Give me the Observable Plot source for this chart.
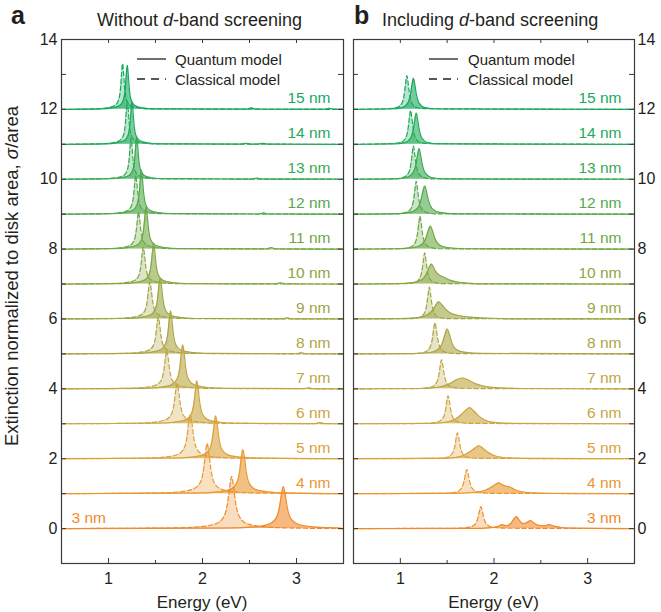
<!DOCTYPE html>
<html><head><meta charset="utf-8">
<script src="https://cdn.jsdelivr.net/npm/d3@7"></script>
<script src="https://cdn.jsdelivr.net/npm/@observablehq/plot@0.6"></script>
<style>
body{margin:0;background:#fff;font-family:"Liberation Sans",Arial,Helvetica,sans-serif;color:#231f20}
#wrap{position:relative;width:661px;height:612px;overflow:hidden;background:#fff}
#pa,#pb{position:absolute;top:0}
#pa{left:0}#pb{left:348px}
#ov{position:absolute;left:0;top:0;pointer-events:none}
</style></head><body>
<div id="wrap"><div id="pa"></div><div id="pb"></div>
<svg id="ov" width="661" height="612" font-family="Liberation Sans, Arial, Helvetica, sans-serif" fill="#231f20">
  <text x="11" y="24" font-size="25" font-weight="bold">a</text>
  <text x="97" y="26" font-size="18">Without <tspan font-style="italic">d</tspan>-band screening</text>
  <text x="354" y="24" font-size="25" font-weight="bold">b</text>
  <text x="382" y="26" font-size="18">Including <tspan font-style="italic">d</tspan>-band screening</text>
  <text transform="translate(18,276) rotate(-90)" text-anchor="middle" font-size="18.5">Extinction normalized to disk area, <tspan font-style="italic">σ</tspan>/area</text>
  <text x="202" y="608" text-anchor="middle" font-size="17">Energy (eV)</text>
  <text x="493.5" y="608" text-anchor="middle" font-size="17">Energy (eV)</text>
  <line x1="137" x2="166" y1="59" y2="59" stroke="#231f20" stroke-width="1.3"/>
  <line x1="137" x2="166" y1="79" y2="79" stroke="#231f20" stroke-width="1.3" stroke-dasharray="8,6"/>
  <text x="175" y="65" font-size="15">Quantum model</text>
  <text x="175" y="85" font-size="15">Classical model</text>
  <line x1="429" x2="458" y1="59" y2="59" stroke="#231f20" stroke-width="1.3"/>
  <line x1="429" x2="458" y1="79" y2="79" stroke="#231f20" stroke-width="1.3" stroke-dasharray="8,6"/>
  <text x="468" y="65" font-size="15">Quantum model</text>
  <text x="468" y="85" font-size="15">Classical model</text>
</svg>
</div>
<script>
const sizes = [3,4,5,6,7,8,9,10,11,12,13,14,15];
const sizeLabels = ["3 nm","4 nm","5 nm","6 nm","7 nm","8 nm","9 nm","10 nm","11 nm","12 nm","13 nm","14 nm","15 nm"];
const colors = ["#f08a2a","#ea972f","#dba23a","#cca540","#bda645","#ada544","#9ca742","#88a843","#6ea845","#52a94c","#37aa53","#22ab5a","#16a95e"];
const xDomain = [0.5, 3.5];
const yDomain = [-1, 14];
const xTickMajor = [1, 2, 3];
const xTickMinor = [1.5, 2.5];
const yTicks = [0,1,2,3,4,5,6,7,8,9,10,11,12,13];
const yTickLabels = [0,2,4,6,8,10,12,14];

// Panel a: without d-band screening  [energy (eV), extinction above baseline]
const aQuantum = [
 [[2.265,.014],[2.52,.042],[2.69,.108],[2.775,.26],[2.818,.6],[2.839,.96],[2.86,1.2],[2.881,.96],[2.902,.6],[2.945,.26],[3.03,.108],[3.2,.042],[3.455,.014]],
 [[1.94,.015],[2.15,.044],[2.29,.113],[2.36,.28],[2.395,.63],[2.412,1.01],[2.43,1.26],[2.448,1.01],[2.465,.63],[2.5,.28],[2.57,.113],[2.71,.044],[2.92,.015]],
 [[1.685,.015],[1.88,.043],[2.01,.11],[2.075,.27],[2.108,.62],[2.124,.98],[2.14,1.23],[2.156,.98],[2.173,.62],[2.205,.27],[2.27,.11],[2.4,.043],[2.595,.015]],
 [[1.52,.015],[1.7,.043],[1.82,.11],[1.88,.27],[1.91,.62],[1.925,.98],[1.94,1.23],[1.955,.98],[1.97,.62],[2.0,.27],[2.06,.11],[2.18,.043],[2.36,.015],[3.2,.005],[3.25,.03],[3.3,.005]],
 [[1.37,.015],[1.55,.044],[1.67,.113],[1.73,.28],[1.76,.63],[1.775,1.01],[1.79,1.26],[1.805,1.01],[1.82,.63],[1.85,.28],[1.91,.113],[2.03,.044],[2.21,.015],[3.08,.005],[3.13,.03],[3.18,.005]],
 [[1.275,.015],[1.44,.043],[1.55,.11],[1.605,.27],[1.633,.62],[1.646,.98],[1.66,1.23],[1.674,.98],[1.688,.62],[1.715,.27],[1.77,.11],[1.88,.043],[2.045,.015],[3.0,.005],[3.05,.03],[3.1,.005]],
 [[1.165,.014],[1.33,.041],[1.44,.105],[1.495,.26],[1.523,.59],[1.536,.94],[1.55,1.17],[1.564,.94],[1.578,.59],[1.605,.26],[1.66,.105],[1.77,.041],[1.935,.014],[2.85,.005],[2.9,.03],[2.95,.005]],
 [[1.13,.014],[1.28,.041],[1.38,.105],[1.43,.26],[1.455,.59],[1.468,.94],[1.48,1.17],[1.492,.94],[1.505,.59],[1.53,.26],[1.58,.105],[1.68,.041],[1.83,.014],[2.78,.005],[2.83,.035],[2.88,.005]],
 [[1.05,.014],[1.2,.042],[1.3,.108],[1.35,.26],[1.375,.6],[1.388,.96],[1.4,1.2],[1.412,.96],[1.425,.6],[1.45,.26],[1.5,.108],[1.6,.042],[1.75,.014],[2.68,.005],[2.73,.04],[2.78,.005]],
 [[1.035,.015],[1.17,.044],[1.26,.113],[1.305,.28],[1.328,.63],[1.339,1.01],[1.35,1.26],[1.361,1.01],[1.373,.63],[1.395,.28],[1.44,.113],[1.53,.044],[1.665,.015],[2.6,.005],[2.65,.035],[2.7,.005]],
 [[1.02,.015],[1.14,.043],[1.22,.11],[1.26,.27],[1.28,.62],[1.29,.98],[1.3,1.23],[1.31,.98],[1.32,.62],[1.34,.27],[1.38,.11],[1.46,.043],[1.58,.015],[2.53,.005],[2.58,.035],[2.63,.005]],
 [[0.97,.015],[1.09,.043],[1.17,.11],[1.21,.27],[1.23,.62],[1.24,.98],[1.25,1.23],[1.26,.98],[1.27,.62],[1.29,.27],[1.33,.11],[1.41,.043],[1.53,.015],[2.41,.005],[2.46,.03],[2.51,.005],[2.59,.005],[2.64,.03],[2.69,.005]],
 [[0.92,.015],[1.04,.044],[1.12,.113],[1.16,.28],[1.18,.63],[1.19,1.01],[1.2,1.26],[1.21,1.01],[1.22,.63],[1.24,.28],[1.28,.113],[1.36,.044],[1.48,.015],[2.47,.005],[2.52,.04],[2.57,.005],[3.3,.005],[3.35,.03],[3.4,.005]]
];
const aClassical = [
 [[1.715,.018],[1.97,.052],[2.14,.134],[2.225,.33],[2.268,.75],[2.289,1.19],[2.31,1.49],[2.331,1.19],[2.352,.75],[2.395,.33],[2.48,.134],[2.65,.052],[2.905,.018]],
 [[1.525,.017],[1.75,.05],[1.9,.129],[1.975,.31],[2.013,.72],[2.031,1.14],[2.05,1.43],[2.069,1.14],[2.088,.72],[2.125,.31],[2.2,.129],[2.35,.05],[2.575,.017]],
 [[1.38,.015],[1.59,.044],[1.73,.113],[1.8,.28],[1.835,.63],[1.852,1.01],[1.87,1.26],[1.888,1.01],[1.905,.63],[1.94,.28],[2.01,.113],[2.15,.044],[2.36,.015]],
 [[1.275,.014],[1.47,.04],[1.6,.104],[1.665,.25],[1.698,.58],[1.714,.92],[1.73,1.15],[1.746,.92],[1.763,.58],[1.795,.25],[1.86,.104],[1.99,.04],[2.185,.014]],
 [[1.2,.013],[1.38,.039],[1.5,.1],[1.56,.24],[1.59,.55],[1.605,.88],[1.62,1.1],[1.635,.88],[1.65,.55],[1.68,.24],[1.74,.1],[1.86,.039],[2.04,.013]],
 [[1.145,.013],[1.31,.037],[1.42,.095],[1.475,.23],[1.503,.53],[1.516,.84],[1.53,1.05],[1.544,.84],[1.558,.53],[1.585,.23],[1.64,.095],[1.75,.037],[1.915,.013]],
 [[1.055,.013],[1.22,.037],[1.33,.095],[1.385,.23],[1.413,.53],[1.426,.85],[1.44,1.06],[1.454,.85],[1.468,.53],[1.495,.23],[1.55,.095],[1.66,.037],[1.825,.013]],
 [[1.02,.013],[1.17,.037],[1.27,.095],[1.32,.23],[1.345,.53],[1.358,.85],[1.37,1.06],[1.382,.85],[1.395,.53],[1.42,.23],[1.47,.095],[1.57,.037],[1.72,.013]],
 [[0.97,.013],[1.12,.037],[1.22,.095],[1.27,.23],[1.295,.53],[1.308,.85],[1.32,1.06],[1.332,.85],[1.345,.53],[1.37,.23],[1.42,.095],[1.52,.037],[1.67,.013]],
 [[0.975,.013],[1.11,.039],[1.2,.1],[1.245,.24],[1.268,.56],[1.279,.89],[1.29,1.11],[1.301,.89],[1.313,.56],[1.335,.24],[1.38,.1],[1.47,.039],[1.605,.013]],
 [[0.96,.014],[1.08,.041],[1.16,.105],[1.2,.26],[1.22,.59],[1.23,.94],[1.24,1.17],[1.25,.94],[1.26,.59],[1.28,.26],[1.32,.105],[1.4,.041],[1.52,.014]],
 [[0.92,.015],[1.04,.043],[1.12,.11],[1.16,.27],[1.18,.61],[1.19,.98],[1.2,1.22],[1.21,.98],[1.22,.61],[1.24,.27],[1.28,.11],[1.36,.043],[1.48,.015]],
 [[0.87,.016],[0.99,.046],[1.07,.118],[1.11,.29],[1.13,.66],[1.14,1.05],[1.15,1.31],[1.16,1.05],[1.17,.66],[1.19,.29],[1.23,.118],[1.31,.046],[1.43,.016]]
];

// Panel b: including d-band screening
const bQuantum = [
 [[1.8,.005],[1.95,.02],[2.04,.06],[2.09,.11],[2.13,.08],[2.18,.15],[2.21,.26],[2.24,.34],[2.27,.24],[2.31,.14],[2.35,.17],[2.39,.23],[2.43,.15],[2.48,.09],[2.54,.08],[2.59,.11],[2.64,.07],[2.72,.03],[2.85,.01]],
 [[1.6,.01],[1.8,.04],[1.9,.09],[1.97,.18],[2.02,.27],[2.05,.31],[2.09,.25],[2.13,.21],[2.17,.19],[2.22,.12],[2.28,.06],[2.4,.02],[2.6,.005]],
 [[1.45,.01],[1.6,.04],[1.68,.1],[1.75,.21],[1.8,.31],[1.84,.37],[1.88,.3],[1.93,.19],[2.0,.09],[2.1,.035],[2.3,.01]],
 [[1.35,.01],[1.5,.05],[1.58,.12],[1.65,.26],[1.7,.39],[1.74,.46],[1.78,.38],[1.83,.24],[1.9,.11],[2.0,.04],[2.2,.01]],
 [[1.2,.01],[1.35,.03],[1.45,.07],[1.53,.15],[1.6,.26],[1.66,.31],[1.72,.26],[1.8,.15],[1.9,.07],[2.05,.03],[2.3,.01]],
 [[1.14,.01],[1.32,.04],[1.41,.14],[1.455,.36],[1.478,.57],[1.5,.71],[1.523,.57],[1.545,.36],[1.59,.14],[1.68,.05],[1.86,.015]],
 [[1.0,.01],[1.19,.04],[1.29,.12],[1.35,.27],[1.38,.4],[1.41,.49],[1.44,.42],[1.47,.32],[1.53,.18],[1.62,.1],[1.75,.05],[1.95,.02],[2.2,.005]],
 [[0.95,.01],[1.13,.04],[1.23,.12],[1.28,.3],[1.305,.46],[1.33,.57],[1.355,.48],[1.38,.35],[1.42,.25],[1.46,.2],[1.52,.12],[1.6,.06],[1.75,.02],[1.95,.005]],
 [[0.96,.01],[1.14,.04],[1.23,.13],[1.275,.33],[1.298,.53],[1.32,.66],[1.343,.53],[1.365,.33],[1.41,.13],[1.5,.04],[1.68,.01]],
 [[0.94,.01],[1.1,.05],[1.18,.16],[1.22,.4],[1.24,.64],[1.26,.8],[1.28,.64],[1.3,.4],[1.34,.16],[1.42,.05],[1.58,.01]],
 [[0.94,.01],[1.07,.05],[1.135,.18],[1.168,.44],[1.184,.7],[1.2,.88],[1.216,.7],[1.233,.44],[1.265,.18],[1.33,.05],[1.46,.01]],
 [[0.93,.01],[1.05,.05],[1.11,.18],[1.14,.45],[1.155,.71],[1.17,.89],[1.185,.71],[1.2,.45],[1.23,.18],[1.29,.05],[1.41,.01]],
 [[0.9,.01],[1.02,.05],[1.08,.18],[1.11,.45],[1.125,.71],[1.14,.89],[1.155,.71],[1.17,.45],[1.2,.18],[1.26,.05],[1.38,.01]]
];
const bClassical = [
 [[1.62,.01],[1.74,.04],[1.8,.13],[1.83,.32],[1.845,.5],[1.86,.63],[1.875,.5],[1.89,.32],[1.92,.13],[1.98,.04],[2.1,.01]],
 [[1.47,.01],[1.59,.04],[1.65,.14],[1.68,.35],[1.695,.55],[1.71,.69],[1.725,.55],[1.74,.35],[1.77,.14],[1.83,.04],[1.95,.01]],
 [[1.39,.01],[1.5,.04],[1.555,.15],[1.583,.37],[1.596,.59],[1.61,.74],[1.624,.59],[1.638,.37],[1.665,.15],[1.72,.04],[1.83,.01]],
 [[1.29,.01],[1.4,.05],[1.455,.16],[1.483,.4],[1.496,.64],[1.51,.8],[1.524,.64],[1.538,.4],[1.565,.16],[1.62,.05],[1.73,.01]],
 [[1.22,.01],[1.33,.05],[1.385,.17],[1.413,.42],[1.426,.66],[1.44,.83],[1.454,.66],[1.468,.42],[1.495,.17],[1.55,.05],[1.66,.01]],
 [[1.15,.01],[1.26,.05],[1.315,.18],[1.343,.45],[1.356,.71],[1.37,.89],[1.384,.71],[1.398,.45],[1.425,.18],[1.48,.05],[1.59,.01]],
 [[1.11,.01],[1.21,.05],[1.26,.18],[1.285,.46],[1.298,.73],[1.31,.91],[1.322,.73],[1.335,.46],[1.36,.18],[1.41,.05],[1.51,.01]],
 [[1.06,.01],[1.16,.05],[1.21,.18],[1.235,.45],[1.248,.71],[1.26,.89],[1.272,.71],[1.285,.45],[1.31,.18],[1.36,.05],[1.46,.01]],
 [[1.01,.01],[1.11,.06],[1.16,.19],[1.185,.47],[1.198,.75],[1.21,.94],[1.222,.75],[1.235,.47],[1.26,.19],[1.31,.06],[1.41,.01]],
 [[0.97,.01],[1.07,.06],[1.12,.19],[1.145,.47],[1.158,.75],[1.17,.94],[1.182,.75],[1.195,.47],[1.22,.19],[1.27,.06],[1.37,.01]],
 [[0.94,.01],[1.04,.06],[1.09,.19],[1.115,.48],[1.128,.76],[1.14,.95],[1.152,.76],[1.165,.48],[1.19,.19],[1.24,.06],[1.34,.01]],
 [[0.91,.02],[1.01,.06],[1.06,.19],[1.085,.49],[1.098,.78],[1.11,.97],[1.122,.78],[1.135,.49],[1.16,.19],[1.21,.06],[1.31,.02]],
 [[0.87,.02],[0.97,.06],[1.02,.19],[1.045,.49],[1.058,.78],[1.07,.97],[1.082,.78],[1.095,.49],[1.12,.19],[1.17,.06],[1.27,.02]]
];

const FRAME = "#3a3a3a";
const HEIGHT = 612, MT = 39, MB = 49;

function rowsFor(pts, i) {
  return [[xDomain[0], 0], ...pts, [xDomain[1], 0]].map(([E, v]) => ({E, base: i, top: i + v}));
}

function panel({q, c, width, ml, mr, labelsRight, leftLabelIdx}) {
  const innerW = width - ml - mr, innerH = HEIGHT - MT - MB;
  const marks = [];
  for (let i = sizes.length - 1; i >= 0; i--) {
    const cr = rowsFor(c[i], i), qr = rowsFor(q[i], i);
    marks.push(
      Plot.areaY(cr, {x: "E", y1: "base", y2: "top", fill: colors[i], fillOpacity: 0.3, curve: "monotone-x"}),
      Plot.areaY(qr, {x: "E", y1: "base", y2: "top", fill: colors[i], fillOpacity: 0.6, curve: "monotone-x"}),
      Plot.lineY(cr, {x: "E", y: "top", stroke: colors[i], strokeWidth: 1.2, strokeDasharray: "4.5,2.5", curve: "monotone-x"}),
      Plot.lineY(qr, {x: "E", y: "top", stroke: colors[i], strokeWidth: 1.2, curve: "monotone-x"})
    );
  }
  const lab = sizes.map((s, i) => ({i, label: sizeLabels[i], color: colors[i]}));
  marks.push(
    Plot.text(lab.filter(d => d.i !== leftLabelIdx), {y: "i", text: "label", fill: "color", frameAnchor: "right", textAnchor: "end", lineAnchor: "bottom", dx: -13, dy: -6, fontSize: 15.5}),
    Plot.text(lab.filter(d => d.i === leftLabelIdx), {y: "i", text: "label", fill: "color", frameAnchor: "left", textAnchor: "start", lineAnchor: "bottom", dx: 10, dy: -6, fontSize: 15.5}),
    Plot.frame({stroke: FRAME, strokeWidth: 1.2}),
    Plot.ruleX(xTickMajor, {x: d => d, insetTop: innerH - 5, stroke: FRAME}),
    Plot.ruleX(xTickMinor, {x: d => d, insetTop: innerH - 3, stroke: FRAME}),
    Plot.ruleX(xTickMajor.concat(xTickMinor), {x: d => d, insetBottom: innerH - 4, stroke: FRAME}),
    Plot.ruleY(yTicks, {y: d => d, insetRight: innerW - 5, stroke: FRAME}),
    Plot.ruleY(yTicks, {y: d => d, insetLeft: innerW - 5, stroke: FRAME}),
    Plot.text(xTickMajor, {x: d => d, text: d => String(d), frameAnchor: "bottom", lineAnchor: "top", dy: 9, fontSize: 16, fill: "#231f20"}),
    labelsRight
      ? Plot.text(yTickLabels, {y: d => d, text: d => String(d), frameAnchor: "right", textAnchor: "start", dx: 3, fontSize: 16, fill: "#231f20"})
      : Plot.text(yTickLabels, {y: d => d, text: d => String(d), frameAnchor: "left", textAnchor: "end", dx: -4, fontSize: 16, fill: "#231f20"})
  );
  return Plot.plot({
    width, height: HEIGHT, marginLeft: ml, marginRight: mr, marginTop: MT, marginBottom: MB,
    x: {domain: xDomain, axis: null}, y: {domain: yDomain, axis: null},
    style: {fontFamily: "Liberation Sans, Arial, Helvetica, sans-serif", background: "transparent", overflow: "visible"},
    marks
  });
}

document.getElementById("pa").append(panel({q: aQuantum, c: aClassical, width: 348, ml: 61, mr: 5, labelsRight: false, leftLabelIdx: 0}));
document.getElementById("pb").append(panel({q: bQuantum, c: bClassical, width: 313, ml: 5, mr: 27, labelsRight: true, leftLabelIdx: -1}));
</script>
</body></html>
